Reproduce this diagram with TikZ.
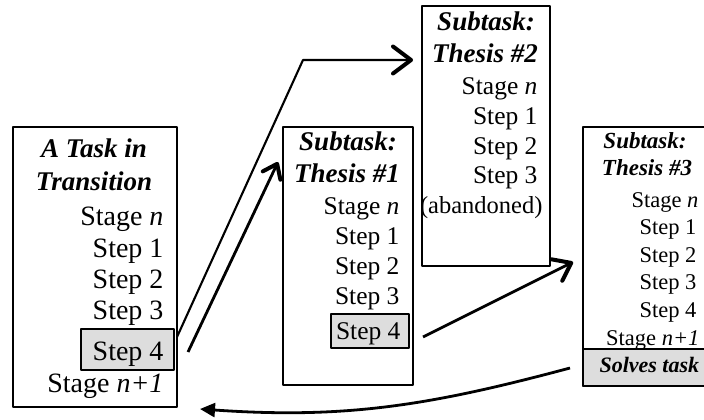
\documentclass[tikz,border=0pt]{standalone}
\usepackage{fontspec}
\setmainfont{Liberation Serif}
\usetikzlibrary{positioning,arrows.meta}
\definecolor{hilite}{RGB}{221,221,221}

\begin{document}
\begin{tikzpicture}[x=1pt,y=-1pt,line join=round,
  box/.style={draw,line width=1.6pt,inner sep=0pt,anchor=north west},
  hbox/.style={draw,line width=2.4pt,fill=hilite,inner sep=0pt,anchor=north west},
  txtA/.style={font=\fontsize{28}{30}\selectfont,anchor=base east},
  txtB/.style={font=\fontsize{25.5}{28}\selectfont,anchor=base east},
  txtC/.style={font=\fontsize{22.5}{25}\selectfont,anchor=base east},
  hd/.style={font=\fontsize{#1}{#1}\selectfont\bfseries\itshape,anchor=base},
  link/.style={line width=2.8pt},
  barb/.style={-{Straight Barb[length=#1,width=1.5*#1,line width=4pt,round]}}]
  \useasboundingbox (0,0) rectangle (704,420);
  \clip (0,0) rectangle (704,420);

  % the main task
  \node[box,minimum width=164pt,minimum height=280pt] (task) at (12,126) {};
  \node[hbox,minimum width=93pt,minimum height=41pt] (task-s4) at (80,328) {};
  \node[hd=27] (task-h1) at (94,157) {A Task in};
  \node[hd=27] (task-h2) at (94,190) {Transition};
  \node[txtA] (task-n) at (167,225) {Stage \textit{n}};
  \foreach \i in {1,2,3}
    \node[txtA] (task-\i) at (167,{227+30.7*\i}) {Step \i};
  \node[txtA] (task-4) at (167,360) {Step 4};
  \node[txtA] (task-m) at (167,392) {Stage \textit{n+1}};

  % subtask 1
  \node[box,minimum width=130pt,minimum height=258pt] (th1) at (282,126) {};
  \node[hbox,minimum width=78pt,minimum height=34pt] (th1-s4) at (330,313) {};
  \node[hd=27] (th1-h1) at (348,150) {Subtask:};
  \node[hd=27] (th1-h2) at (347,182) {Thesis \#1};
  \node[txtB] (th1-n) at (403,214) {Stage \textit{n}};
  \foreach \i in {1,2,3}
    \node[txtB] (th1-\i) at (403,{214+30*\i}) {Step \i};
  \node[txtB] (th1-4) at (404,339) {Step 4};

  % subtask 2 (dropped)
  \node[box,minimum width=128pt,minimum height=260pt] (th2) at (421,5) {};
  \node[hd=27] (th2-h1) at (486,31) {Subtask:};
  \node[hd=27] (th2-h2) at (485,63) {Thesis \#2};
  \node[txtB] (th2-n) at (541,95) {Stage \textit{n}};
  \foreach \i in {1,2,3}
    \node[txtB] (th2-\i) at (541,{95+29.5*\i}) {Step \i};
  \node[txtB,font=\fontsize{24.5}{28}\selectfont] (th2-x) at (546,213) {(abandoned)};

  % subtask 3
  \node[box,minimum width=130pt,minimum height=259pt] (th3) at (582,126) {};
  \node[hbox,line width=2pt,minimum width=130pt,minimum height=37pt] (th3-ok) at (582,348) {};
  \node[hd=23] (th3-h1) at (645,148) {Subtask:};
  \node[hd=23] (th3-h2) at (647,175) {Thesis \#3};
  \node[txtC] (th3-n) at (702,207) {Stage \textit{n}};
  \foreach \i in {1,2,3,4}
    \node[txtC] (th3-\i) at (700,{207+27.5*\i}) {Step \i};
  \node[txtC] (th3-m) at (703,345) {Stage \textit{n+1}};
  \node[hd=22,anchor=base west] (th3-ok-t) at (596,372) {Solves task};

  % connectors
  \coordinate (a1) at (177,337);
  \coordinate (knee) at (303,60);
  \coordinate (a1e) at (413,60);
  \coordinate (a2) at (188,352);
  \coordinate (a2e) at (278,162);
  \coordinate (b1) at (423,337);
  \coordinate (b1e) at (573,262);
  \coordinate (c1) at (570,368);
  \coordinate (c1e) at (200,409);
  \draw[line width=2.1pt,barb=18pt] (a1) -- (knee) -- (a1e);
  \draw[link,barb=13pt] (a2) -- (a2e);
  \draw[link,barb=16pt] (b1) -- (b1e);
  \draw[link,-{Triangle[length=15pt,width=14pt]}] (c1) to[out=195,in=-4] (c1e);
\end{tikzpicture}
\end{document}
